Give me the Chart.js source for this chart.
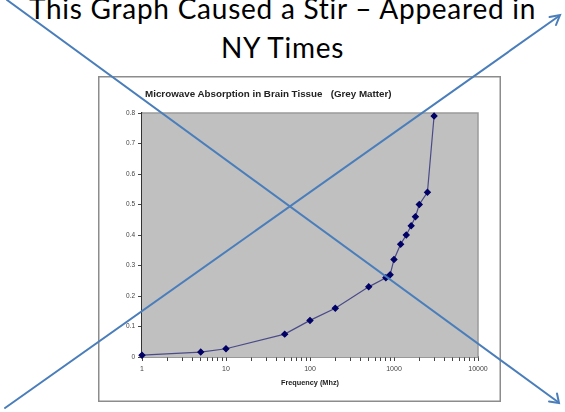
<!DOCTYPE html>
<html>
<head>
<meta charset="utf-8">
<script src="https://cdn.jsdelivr.net/npm/chart.js@4.4.1/dist/chart.umd.min.js"></script>
<style>
  html, body { margin: 0; padding: 0; background: #fff; }
  #slide { position: relative; width: 565px; height: 412px; overflow: hidden; }
  #heading {
    position: absolute; left: 0; top: -11px; width: 565px;
    font-family: Lato, "Open Sans", sans-serif; font-size: 28px; line-height: 39px;
    letter-spacing: 0.75px; text-align: center; color: #000;
  }
  #box {
    position: absolute; left: 98px; top: 76px; width: 403px; height: 326px;
    box-sizing: border-box; box-shadow: inset 0 0 0 1.5px #8c8c8c;
  }
  #boxTitle {
    position: absolute; left: 47px; top: 12px; white-space: pre;
    font-family: "Liberation Sans", Arial, sans-serif; font-weight: bold;
    font-size: 9.8px; line-height: 12px; color: #222;
  }
  #arrows { position: absolute; left: 0; top: 0; pointer-events: none; }
</style>
</head>
<body>
<div id="slide">
  <div id="heading">This Graph Caused a Stir – Appeared in<br>NY Times</div>
  <div id="box">
    <canvas id="myChart"></canvas>
    <div id="boxTitle">Microwave Absorption in Brain Tissue   (Grey Matter)</div>
  </div>
  <svg id="arrows" width="565" height="412">
    <g stroke="#4a7ebb" stroke-width="2" fill="none" stroke-linecap="round">
      <line x1="7" y1="0" x2="558" y2="402"/>
      <polyline points="549,401.5 559,403 557,393.5"/>
      <line x1="5" y1="408" x2="559" y2="16"/>
      <polyline points="549.5,17 560,15 556,25"/>
    </g>
  </svg>
</div>
<script>
var frequency  = [1, 5, 10, 50, 100, 200, 500, 800, 900, 1000, 1200, 1400, 1600, 1800, 2000, 2500, 3000],
    absorption = [0.006, 0.016, 0.027, 0.075, 0.12, 0.16, 0.23, 0.26, 0.27, 0.32, 0.37, 0.40, 0.43, 0.46, 0.50, 0.54, 0.79],
    xTickLabels = [1, 10, 100, 1000, 10000],
    yTicks = [0, 0.1, 0.2, 0.3, 0.4, 0.5, 0.6, 0.7, 0.8];

var points = frequency.map(function(f, i) { return { x: f, y: absorption[i] }; });

// grey plot area with light border on top and right
var plotBackground = {
  id: 'plotBackground',
  beforeDatasetsDraw: function(chart) {
    var a = chart.chartArea, ctx = chart.ctx;
    ctx.save();
    ctx.fillStyle = '#c0c0c0';
    ctx.fillRect(a.left, a.top, a.right - a.left, a.bottom - a.top);
    ctx.strokeStyle = '#9a9a9a';
    ctx.lineWidth = 1.5;
    ctx.beginPath();
    ctx.moveTo(a.left, a.top);
    ctx.lineTo(a.right, a.top);
    ctx.lineTo(a.right, a.bottom);
    ctx.stroke();
    ctx.restore();
  }
};

function logTicks(scale) {
  var ticks = [];
  for (var i = 0; i < xTickLabels.length; i++) {
    var d = xTickLabels[i];
    ticks.push({ value: d });
    if (i < xTickLabels.length - 1) {
      for (var m = 2; m <= 9; m++) ticks.push({ value: d * m });
    }
  }
  scale.ticks = ticks;
}

new Chart(document.getElementById('myChart'), {
  type: 'line',
  data: {
    datasets: [{
      data: points,
      borderColor: '#4a4a88',
      borderWidth: 1.2,
      backgroundColor: '#000066',
      pointBackgroundColor: '#000066',
      pointBorderColor: '#000066',
      pointStyle: 'rectRot',
      pointRadius: 2.9,
      tension: 0,
      clip: false
    }]
  },
  options: {
    responsive: true,
    maintainAspectRatio: false,
    animation: false,
    layout: { padding: { top: 37, right: 23, bottom: 13, left: 0 } },
    plugins: { legend: { display: false }, tooltip: { enabled: false }, title: { display: false } },
    scales: {
      x: {
        type: 'logarithmic',
        min: 1, max: 10000,
        afterBuildTicks: logTicks,
        afterFit: function(s) { s.height = 32; },
        border: { color: '#333', width: 1.5 },
        grid: { drawOnChartArea: false, tickColor: '#444', tickLength: 4 },
        ticks: {
          autoSkip: false, maxRotation: 0, padding: 4, color: '#444',
          font: { family: 'Liberation Sans', size: 7 },
          callback: function(v) { return xTickLabels.indexOf(v) >= 0 ? String(v) : ''; }
        },
        title: {
          display: true, text: 'Frequency (Mhz)', color: '#222',
          font: { family: 'Liberation Sans', size: 7.3, weight: 'bold' },
          padding: { top: 2, bottom: 2 }
        }
      },
      y: {
        min: 0, max: 0.8,
        afterBuildTicks: function(s) { s.ticks = yTicks.map(function(v) { return { value: v }; }); },
        afterFit: function(s) { s.width = 44; },
        border: { color: '#333', width: 1.5 },
        grid: { drawOnChartArea: false, tickColor: '#444', tickLength: 4 },
        ticks: {
          padding: 3, color: '#444',
          font: { family: 'Liberation Sans', size: 6.5 }
        }
      }
    }
  },
  plugins: [plotBackground]
});
</script>
</body>
</html>
